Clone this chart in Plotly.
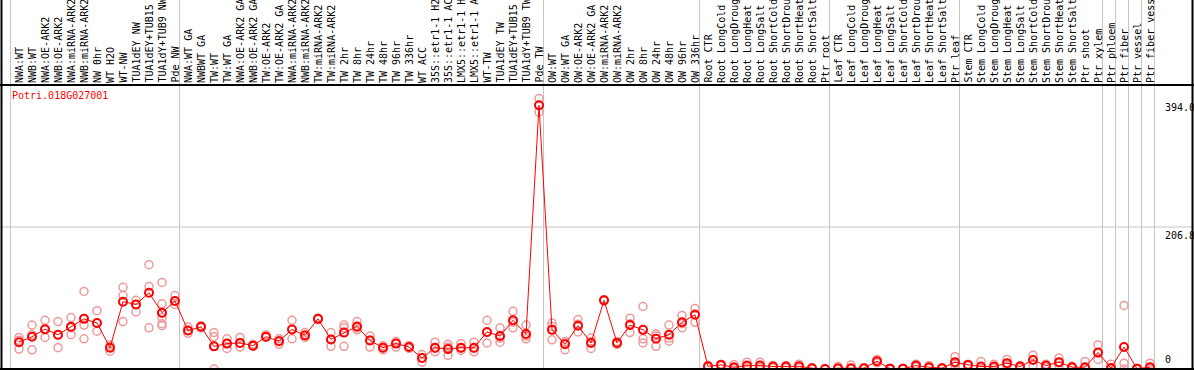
import plotly.graph_objects as go

gene_name = "Potri.018G027001"

categories = [
    "NWA:WT", "NWB:WT", "NWA:OE-ARK2", "NWB:OE-ARK2", "NWA:miRNA-ARK2", "NWB:miRNA-ARK2",
    "NW 0hr", "WT H2O", "WT-NW", "TUA1dEY NW", "TUA1dEY+TUB15 NW", "TUA1dY+TUB9 NW", "Pde NW",
    "NWA:WT GA", "NWBWT GA", "TW:WT", "TW:WT GA", "NWA:OE-ARK2 GA", "NWB:OE-ARK2 GA",
    "TW:OE-ARK2", "TW:OE-ARK2 GA", "NWA:miRNA-ARK2", "NWB:miRNA-ARK2", "TW:miRNA-ARK2",
    "TW:miRNA-ARK2", "TW 2hr", "TW 8hr", "TW 24hr", "TW 48hr", "TW 96hr", "TW 336hr",
    "WT ACC", "35S::etr1-1 H2O", "35S::etr1-1 ACC", "LMX5::etr1-1 H2O", "LMX5::etr1-1 ACC",
    "WT-TW", "TUA1dEY TW", "TUA1dEY+TUB15 TW", "TUA1dY+TUB9 TW", "Pde TW",
    "OW:WT", "OW:WT GA", "OW:OE-ARK2", "OW:OE-ARK2 GA", "OW:miRNA-ARK2", "OW:miRNA-ARK2",
    "OW 2hr", "OW 8hr", "OW 24hr", "OW 48hr", "OW 96hr", "OW 336hr",
    "Root CTR", "Root LongCold", "Root LongDrought", "Root LongHeat", "Root LongSalt",
    "Root ShortCold", "Root ShortDrought", "Root ShortHeat", "Root ShortSalt", "Ptr root",
    "Leaf CTR", "Leaf LongCold", "Leaf LongDrought", "Leaf LongHeat", "Leaf LongSalt",
    "Leaf ShortCold", "Leaf ShortDrought", "Leaf ShortHeat", "Leaf ShortSalt", "Ptr leaf",
    "Stem CTR", "Stem LongCold", "Stem LongDrought", "Stem LongHeat", "Stem LongSalt",
    "Stem ShortCold", "Stem ShortDrought", "Stem ShortHeat", "Stem ShortSalt", "Ptr shoot",
    "Ptr xylem", "Ptr phloem", "Ptr fiber", "Ptr vessel", "Ptr fiber vessel",
]

mean_values = [
    39, 47, 58, 50, 61.5, 73, 67, 31, 98, 94, 111, 82, 99,
    56, 61.5, 33, 37, 38, 34, 47, 40.5, 57.6, 49, 73, 43, 53, 62, 41.5, 31, 37, 32,
    16, 31, 29, 31, 31, 54, 48, 71, 51, 384,
    57, 36, 63, 38, 100, 38, 64, 57, 44, 50, 68, 79,
    4, 6, 2.6, 5, 5, 3.6, 3.6, 4, 1.2, 0,
    1.2, 1.2, 1.2, 11.4, 0.5, 0.5, 5, 2.6, 1.2, 10,
    6, 3.6, 3.6, 8.5, 3.6, 13, 5, 10, 2.6, 2.6,
    24, 1.5, 32, 0.5, 2.6,
]

replicate_values = [
    [46, 42, 29], [64, 50, 28], [71, 57, 46], [69, 49, 31], [75, 60, 50], [113, 64, 44],
    [85, 67, 55], [35, 32, 26], [119, 107, 69], [100, 94, 83], [152, 120, 60],
    [126, 95, 81, 75, 66, 63], [107, 99, 94],
    [61, 56, 52], [63, 61, 60], [53, 47, 0], [44, 37, 30], [46, 38, 32], [36, 34, 33],
    [50, 47, 46], [44, 41, 36], [71, 58, 44], [53, 48, 46], [74, 73, 72], [53, 43, 33],
    [64, 60, 33], [69, 60, 57], [48, 42, 32], [34, 31, 28], [40, 37, 32], [34, 32, 30],
    [21, 16, 10], [39, 30, 25], [36, 32, 20], [37, 30, 27], [39, 30, 25], [71, 53, 38],
    [60, 45, 39], [84, 68, 60], [64, 51, 48, 44], [394, 384, 374],
    [67, 62, 42.5], [40, 38, 28], [72, 65, 54], [45, 40, 30], [101, 100, 99], [40, 38, 36],
    [74, 66, 53], [91, 44, 38], [51, 48, 33], [64, 45, 40.5], [78, 66, 60], [88, 80, 68],
    [5, 4, 3], [7, 6, 5], [6.5, 1, 0.5], [10, 3, 2], [10, 3, 2], [5, 3.5, 2], [5, 3.5, 2],
    [7, 3, 2], [2, 1, 0.5], [0, 0, 0],
    [4, 0, 0], [6, 0, 0], [2, 1, 0.5], [14, 11, 9], [1, 0.5, 0], [1, 0.5, 0], [7, 5, 3],
    [5, 2, 1], [2, 1, 0.5], [18, 8, 4],
    [7, 6, 5], [11, 0, 0], [7, 3, 1], [14, 7, 5], [5, 3, 2], [20, 13, 5], [7, 5, 3],
    [16, 9, 5], [4, 2, 1], [11, 0, 0],
    [35, 23, 14], [7, 0, 0], [92.5, 8.5, 0], [1, 0, 0], [8.5, 0, 0],
]

# first category index of each group (vertical separators)
group_starts = [0, 13, 41, 53, 63, 73, 84, 85, 86, 87, 88]

y_max = 413.6
y_tick_values = [394.0, 206.8, 0]
y_tick_labels = ["394.0", "206.8", "0"]

FONT = "DejaVu Sans Mono"
W, H = 1194, 370
TOP, BOTTOM = 85, 1
plot_h = H - TOP - BOTTOM
top_paper = 1 + TOP / plot_h
bot_paper = -BOTTOM / plot_h

x_idx = list(range(len(categories)))

rep_x, rep_y = [], []
for i, reps in enumerate(replicate_values):
    for v in reps:
        rep_x.append(i)
        rep_y.append(v)

fig = go.Figure()
fig.add_trace(go.Scatter(
    x=rep_x, y=rep_y, mode="markers",
    marker=dict(symbol="circle-open", size=8, color="#ee9a9a", line=dict(width=1.5, color="#ee9a9a")),
    cliponaxis=False, hoverinfo="skip", showlegend=False,
))
fig.add_trace(go.Scatter(
    x=x_idx, y=mean_values, mode="lines+markers",
    line=dict(color="#ff0000", width=1),
    marker=dict(symbol="circle-open", size=8, color="#ff0000", line=dict(width=2, color="#ff0000")),
    cliponaxis=False, showlegend=False,
))

shapes = []
for g in group_starts:
    shapes.append(dict(type="line", xref="x", yref="paper", x0=g - 0.65, x1=g - 0.65,
                       y0=bot_paper, y1=top_paper, line=dict(color="#c4c4c4", width=1), layer="below"))
shapes.append(dict(type="line", xref="paper", yref="y", x0=0, x1=1, y0=y_max / 2, y1=y_max / 2,
                   line=dict(color="#c4c4c4", width=1), layer="below"))
# frame
shapes.append(dict(type="line", xref="paper", yref="paper", x0=0, x1=1, y0=1, y1=1,
                   line=dict(color="black", width=2)))
shapes.append(dict(type="line", xref="paper", yref="paper", x0=0, x1=1, y0=0, y1=0,
                   line=dict(color="black", width=2)))
shapes.append(dict(type="line", xref="paper", yref="paper", x0=1.5 / W, x1=1.5 / W,
                   y0=bot_paper, y1=top_paper, line=dict(color="black", width=2)))
shapes.append(dict(type="line", xref="paper", yref="paper", x0=1 - 1.5 / W, x1=1 - 1.5 / W,
                   y0=bot_paper, y1=top_paper, line=dict(color="black", width=2)))

annotations = []
for i, lab in enumerate(categories):
    annotations.append(dict(x=i, y=1, xref="x", yref="paper", text=lab, showarrow=False,
                            textangle=-90, xanchor="center", yanchor="bottom", yshift=1,
                            borderpad=0, font=dict(family=FONT, size=10, color="black")))
annotations.append(dict(x=10 / W, y=1, xref="paper", yref="paper", text=gene_name, showarrow=False,
                        xanchor="left", yanchor="top", yshift=-3,
                        font=dict(family=FONT, size=10, color="#ff0000")))
label_x = 88
for v, t in zip(y_tick_values, y_tick_labels):
    if v == 0:
        annotations.append(dict(x=label_x, y=v, xref="x", yref="y", text=t, showarrow=False,
                                xanchor="left", yanchor="bottom", yshift=2,
                                font=dict(family=FONT, size=10, color="black")))
    else:
        annotations.append(dict(x=label_x, y=v, xref="x", yref="y", text=t, showarrow=False,
                                xanchor="left", yanchor="top", yshift=-2 if v > 300 else -1,
                                font=dict(family=FONT, size=10, color="black")))

x0 = -19 / 13
x1 = (W - 19) / 13
fig.update_layout(
    width=W, height=H,
    margin=dict(l=0, r=0, t=TOP, b=BOTTOM, pad=0),
    paper_bgcolor="white", plot_bgcolor="white",
    xaxis=dict(range=[x0, x1], showgrid=False, zeroline=False, showticklabels=False,
               ticks="", showline=False, fixedrange=True),
    yaxis=dict(range=[0, y_max], showgrid=False, zeroline=False, showticklabels=False,
               ticks="", showline=False, fixedrange=True),
    shapes=shapes, annotations=annotations,
    font=dict(family=FONT, size=10),
)

fig.write_html("out.html", config={"displayModeBar": False},
               post_script="document.body.style.margin='0px';document.body.style.overflow='hidden';")
